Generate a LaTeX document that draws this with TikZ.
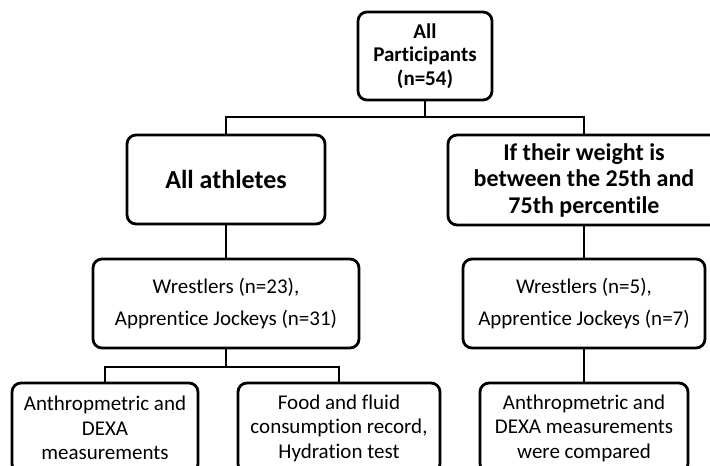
\documentclass[tikz,border=0pt]{standalone}
\usepackage{fontspec}
\setmainfont[Ligatures=NoCommon]{Carlito}
\begin{document}
\begin{tikzpicture}[x=1pt,y=-1pt,
  box/.style={draw=black, line width=2.8pt, rounded corners=9pt, align=center, inner sep=0pt, fill=white},
  reg/.style={font=\fontsize{21}{24.5}\selectfont},
  conn/.style={draw=black, line width=2.8pt}]
\useasboundingbox (0,0) rectangle (710,466);
\clip (0,0) rectangle (710,466);
\node[box, minimum width=134pt, minimum height=88pt, font=\bfseries\fontsize{21}{23.5}\selectfont] (top) at (425,56) {All\\Participants\\(n=54)};
\node[box, minimum width=198pt, minimum height=89pt, font=\bfseries\fontsize{26}{30}\selectfont] (ath) at (226,179.5) {All athletes};
\node[box, minimum width=272pt, minimum height=90pt, font=\bfseries\fontsize{24}{26.5}\selectfont] (wt) at (584,180) {If their weight is\\between the 25th and\\75th percentile};
\node[box, reg, minimum width=266pt, minimum height=89pt] (wl) at (226,303.5) {Wrestlers (n=23),\\[7.5pt] Apprentice Jockeys (n=31)};
\node[box, reg, minimum width=242pt, minimum height=89pt] (wr) at (584,303.5) {Wrestlers (n=5),\\[7.5pt]Apprentice Jockeys (n=7)};
\node[box, reg, minimum width=186pt, minimum height=90pt] (b1) at (105,428) {Anthropmetric and\\DEXA\\measurements};
\node[box, reg, minimum width=202pt, minimum height=90pt] (b2) at (339,428) {Food and fluid\\consumption record,\\Hydration test};
\node[box, reg, minimum width=208pt, minimum height=90pt] (b3) at (584,428) {Anthropmetric and\\DEXA measurements\\were compared};
\coordinate (j1) at (425,117);
\coordinate (j2) at (226,367);
\draw[conn] (top.south) -- (j1);
\draw[conn] (ath.north) |- (j1) -| (wt.north);
\draw[conn] (ath.south) -- (wl.north);
\draw[conn] (wt.south) -- (wr.north);
\draw[conn] (wl.south) -- (j2);
\draw[conn] (b1.north) |- (j2) -| (b2.north);
\draw[conn] (wr.south) -- (b3.north);
\end{tikzpicture}
\end{document}
